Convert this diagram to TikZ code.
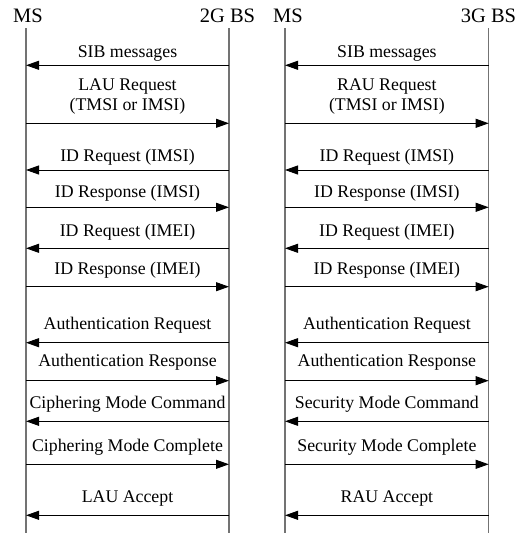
\documentclass[tikz,border=0pt]{standalone}
\usepackage{fontspec}
\setmainfont{Liberation Serif}
\usetikzlibrary{arrows.meta}
\begin{document}
\begin{tikzpicture}[x=1pt,y=1pt,
  life/.style={draw=black!55, line width=1.3pt},
  msg/.style={draw=black, line width=0.9pt, -{Triangle[length=13pt,width=9pt]}},
  hdr/.style={font=\fontsize{20.5}{22}\selectfont, inner sep=0pt, anchor=base},
  lbl/.style={font=\fontsize{17.8}{19.3}\selectfont, inner sep=0pt, anchor=base, align=center}]
\useasboundingbox (0,0) rectangle (522,-533);
% headers
\node[hdr] (msA) at (28,-22) {MS};
\node[hdr] (bsA) at (227.5,-22) {2G BS};
\node[hdr] (msB) at (288,-22) {MS};
\node[hdr] (bsB) at (488.5,-22) {3G BS};
% lifelines
\coordinate (msAt) at (26,-28);   \coordinate (msAb) at (26,-533);
\coordinate (bsAt) at (229,-28);  \coordinate (bsAb) at (229,-533);
\coordinate (msBt) at (285,-28);  \coordinate (msBb) at (285,-533);
\coordinate (bsBt) at (488.7,-28);\coordinate (bsBb) at (488.7,-533);
\draw[life] (msAt) -- (msAb);
\draw[life] (bsAt) -- (bsAb);
\draw[life] (msBt) -- (msBb);
\draw[life] (bsBt) -- (bsBb);
% messages: index / arrow y / baseline y / direction (1 = to MS, 0 = to BS)
\foreach \i/\ay/\by/\d/\la/\lb in {
  1/65.3/57.3/1/{SIB messages}/{SIB messages},
  3/170/161.7/1/{ID Request (IMSI)}/{ID Request (IMSI)},
  4/207.3/197.3/0/{ID Response (IMSI)}/{ID Response (IMSI)},
  5/248.3/236/1/{ID Request (IMEI)}/{ID Request (IMEI)},
  6/286.7/274/0/{ID Response (IMEI)}/{ID Response (IMEI)},
  7/342.7/329/1/{Authentication Request}/{Authentication Request},
  8/380.7/366.7/0/{Authentication Response}/{Authentication Response},
  9/421.3/408.3/1/{Ciphering Mode Command}/{Security Mode Command},
  10/464.3/451/0/{Ciphering Mode Complete}/{Security Mode Complete},
  11/515.3/502.7/1/{LAU Accept}/{RAU Accept}}{
  \coordinate (mA\i) at (26,-\ay);
  \coordinate (bA\i) at (229,-\ay);
  \coordinate (mB\i) at (285,-\ay);
  \coordinate (bB\i) at (488.7,-\ay);
  \node[lbl] (tA\i) at (127.5,-\by) {\la};
  \node[lbl] (tB\i) at (386.9,-\by) {\lb};
  \ifnum\d=1
    \draw[msg] (bA\i) -- (mA\i);
    \draw[msg] (bB\i) -- (mB\i);
  \else
    \draw[msg] (mA\i) -- (bA\i);
    \draw[msg] (mB\i) -- (bB\i);
  \fi
}
% two-line requests (base anchor = last line)
\coordinate (mA2) at (26,-123.3);
\coordinate (bA2) at (229,-123.3);
\coordinate (mB2) at (285,-123.3);
\coordinate (bB2) at (488.7,-123.3);
\node[lbl] (tA2) at (127.5,-110) {LAU Request\\(TMSI or IMSI)};
\node[lbl] (tB2) at (386.9,-110) {RAU Request\\(TMSI or IMSI)};
\draw[msg] (mA2) -- (bA2);
\draw[msg] (mB2) -- (bB2);
\end{tikzpicture}
\end{document}
